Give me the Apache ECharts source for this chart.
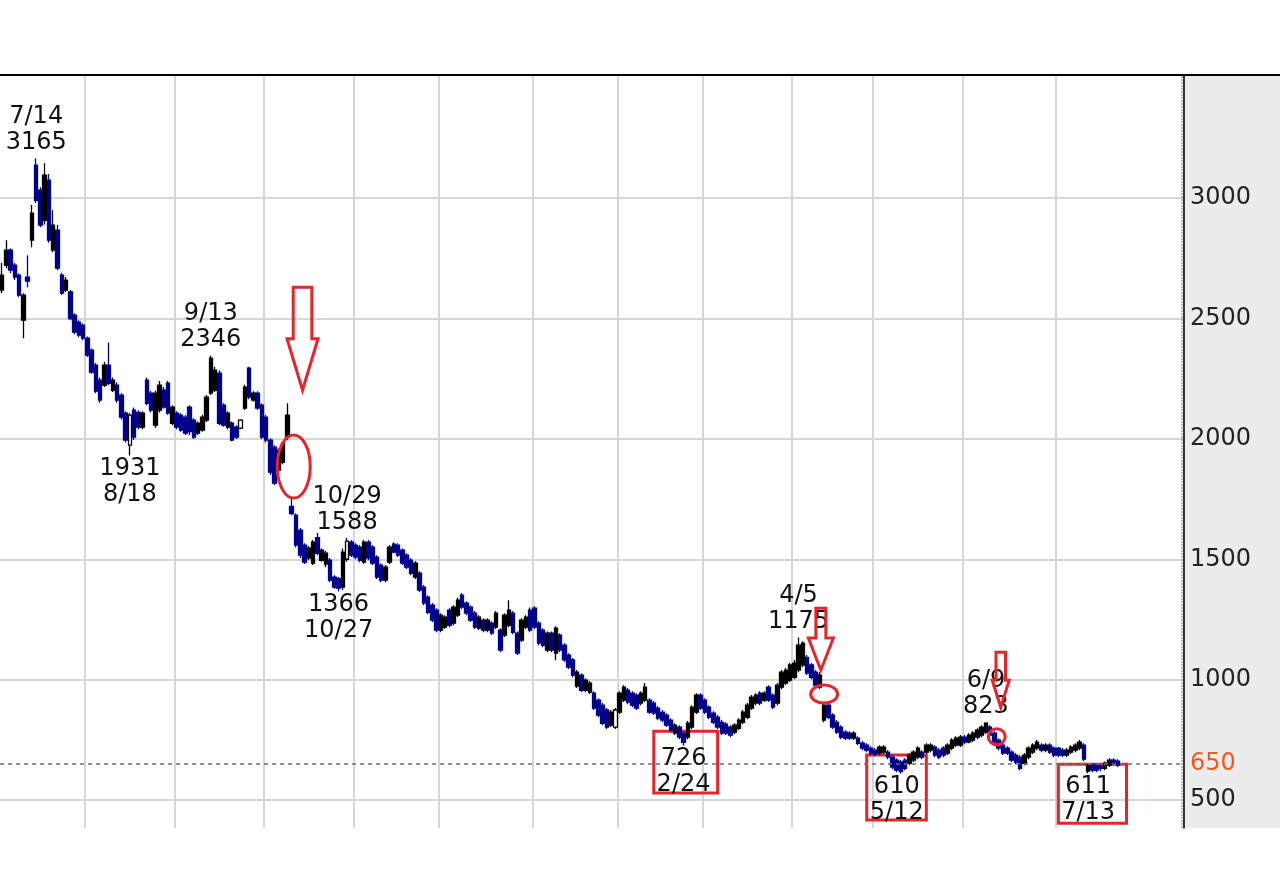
<!DOCTYPE html>
<html><head><meta charset="utf-8">
<script src="https://cdn.jsdelivr.net/npm/echarts@6/dist/echarts.min.js"></script>
<style>html,body{margin:0;padding:0;background:#fff}#c{width:1280px;height:871px}</style>
</head><body><div id="c"></div>
<script>
// month labels (one per block of trading days)
const monthNames = ['Jul','Aug','Sep','Oct','Nov','Dec','Jan','Feb','Mar','Apr','May','Jun','Jul2'];
// daily candles [open, close, low, high]
const jul = [
[2618,2680,2605,2730],[2721,2784,2709,2825],[2784,2701,2688,2792],[2721,2672,2660,2730],
[2680,2597,2589,2688],[2493,2597,2418,2605],[2672,2655,2630,2763],[2825,2937,2796,2971],
[3137,2991,2980,3165],[3033,2888,2879,3045],[2908,3095,2890,3145],[3074,2825,2815,3100],
[2784,2888,2775,2950],[2867,2709,2700,2888],[2680,2605,2597,2690],[2618,2659,2610,2672],
[2610,2500,2493,2618],[2514,2443,2435,2522],[2485,2431,2422,2493],[2472,2418,2410,2480]];
const aug = [
[2418,2348,2340,2425],[2368,2277,2270,2375],[2306,2198,2190,2315],[2244,2161,2150,2255],
[2223,2306,2215,2320],[2306,2231,2223,2400],[2202,2244,2195,2255],[2223,2161,2150,2235],
[2182,2090,2080,2190],[2107,1995,1985,2115],[1974,2099,1931,2107],[2119,2007,1995,2130],
[2110,2049,2040,2119],[2049,2107,2040,2115],[2244,2148,2140,2255],[2190,2119,2110,2200],
[2057,2190,2045,2200],[2119,2223,2110,2240],[2202,2132,2125,2215],[2231,2107,2100,2240],
[2065,2132,2057,2140]];
const sep = [
[2107,2049,2040,2115],[2099,2036,2030,2107],[2090,2024,2016,2099],[2132,2030,2016,2140],
[2078,2007,2000,2086],[2024,2065,2016,2072],[2036,2090,2030,2099],[2078,2173,2070,2182],
[2190,2335,2182,2346],[2202,2285,2195,2300],[2273,2065,2057,2285],[2140,2057,2050,2148],
[2049,2107,2040,2115],[2065,1995,1990,2072],[2049,2007,2000,2057],[2045,2078,2040,2082],
[2128,2215,2120,2225],[2294,2173,2165,2300],[2161,2190,2155,2198],[2190,2128,2120,2198],
[2140,2007,2000,2148]];
const oct = [
[2090,1995,1985,2099],[1995,1862,1850,2003],[1966,1816,1808,1974],[1870,1953,1850,1960],
[1903,1982,1895,1990],[2007,2099,1995,2148],[1720,1690,1683,1750],[1683,1559,1550,1690],
[1621,1517,1505,1630],[1559,1488,1480,1567],[1505,1546,1496,1555],[1484,1571,1476,1580],
[1590,1525,1517,1609],[1496,1538,1490,1545],[1480,1525,1467,1535],[1496,1413,1405,1505],
[1426,1384,1378,1434],[1420,1380,1366,1426],[1384,1530,1372,1545],[1500,1575,1490,1588],
[1571,1517,1509,1580]];
const nov = [
[1559,1509,1500,1567],[1550,1496,1488,1559],[1488,1571,1480,1580],[1571,1505,1496,1580],
[1550,1484,1476,1559],[1509,1426,1418,1517],[1476,1413,1405,1484],[1413,1467,1405,1476],
[1488,1550,1480,1559],[1563,1530,1525,1571],[1559,1517,1509,1567],[1538,1484,1476,1546],
[1517,1467,1460,1525],[1496,1442,1434,1505],[1426,1484,1418,1492],[1442,1372,1363,1450],
[1384,1318,1309,1393],[1343,1280,1272,1351],[1309,1247,1240,1318],[1289,1206,1197,1297]];
const dec = [
[1206,1268,1197,1276],[1218,1260,1210,1268],[1289,1226,1218,1297],[1235,1301,1226,1309],
[1268,1330,1260,1340],[1351,1301,1293,1360],[1318,1276,1268,1326],[1301,1247,1240,1309],
[1276,1218,1210,1285],[1214,1260,1206,1268],[1247,1206,1197,1255],[1206,1247,1197,1255],
[1235,1193,1185,1243],[1218,1276,1210,1285],[1206,1123,1114,1214],[1185,1268,1177,1276],
[1226,1289,1218,1330],[1276,1197,1189,1285],[1193,1110,1102,1200],[1164,1247,1156,1255],
[1218,1260,1210,1268],[1289,1206,1197,1300]];
const jan = [
[1297,1218,1210,1305],[1235,1152,1143,1243],[1206,1143,1135,1214],[1123,1193,1114,1200],
[1193,1123,1114,1200],[1110,1214,1081,1222],[1185,1123,1114,1193],[1143,1082,1073,1152],
[1102,1052,1044,1110],[1082,1019,1010,1090],[973,1031,965,1040],[1019,956,948,1027],
[956,998,948,1006],[948,986,940,994],[944,882,874,952],[915,853,844,923],
[894,819,811,903],[874,803,795,882],[811,865,803,874],[803,874,795,882]];
const feb = [
[865,944,857,952],[915,969,907,977],[956,907,898,965],[944,894,886,952],
[936,882,874,944],[903,944,894,952],[915,969,907,986],[915,865,857,923],
[903,861,853,911],[882,840,832,890],[865,832,823,874],[853,811,803,861],
[832,790,782,840],[778,811,770,819],[803,761,753,811],[778,740,726,786],
[761,819,753,828],[803,886,795,894],[865,936,857,944],[936,882,874,944]];
const mar = [
[915,865,857,923],[886,844,836,894],[861,823,815,869],[844,803,795,853],
[823,778,770,832],[815,778,770,823],[803,770,761,811],[782,811,774,819],
[798,832,790,840],[823,865,815,874],[844,894,836,903],[882,927,874,936],
[903,936,894,944],[944,903,894,952],[915,944,907,952],[969,915,907,977],
[936,886,878,944],[903,977,894,986],[969,1031,961,1040],[986,1040,977,1048],
[998,1061,990,1069]];
const apr = [
[1010,1069,1002,1082],[1040,1143,1031,1175],[1061,1152,1052,1160],[1093,1027,1019,1102],
[1061,1010,1002,1069],[1031,977,969,1040],[969,1019,961,1031],[832,894,823,903],
[894,844,836,903],[853,803,795,861],[823,782,774,832],[803,761,753,811],
[782,757,749,790],[778,757,749,786],[757,778,749,786],[757,736,728,765],
[736,716,707,745],[728,707,699,736],[716,695,687,724]];
const may = [
[707,690,682,716],[695,720,687,728],[699,720,691,728],[699,678,670,707],
[678,637,628,687],[666,624,616,674],[658,618,610,666],[666,632,624,674],
[653,687,645,695],[666,699,658,707],[678,716,670,724],[699,678,670,707],
[699,728,691,736],[707,728,699,736],[720,687,678,728],[707,678,670,716],
[716,687,678,724],[695,728,687,736],[716,749,707,757],[728,757,720,765],
[728,761,720,770]];
const jun = [
[761,741,732,770],[741,770,736,778],[749,778,741,786],[761,790,753,798],
[770,803,761,811],[782,819,774,823],[803,770,761,811],[778,741,732,786],
[749,716,707,757],[728,695,687,736],[716,695,687,724],[699,666,658,707],
[687,658,649,695],[678,632,624,687],[653,687,645,695],[678,716,670,724],
[699,728,691,736],[716,741,707,749],[728,707,699,736],[707,728,699,736],
[728,699,691,736],[716,687,678,724]];
const jul2 = [
[716,687,678,720],[707,687,678,716],[687,707,678,716],[699,720,691,728],
[707,728,699,736],[716,741,707,749],[728,670,662,736],[620,645,611,649],
[645,624,616,653],[645,624,616,653],[641,632,620,649],[632,653,624,660],
[645,666,637,674],[666,653,645,674],[662,645,637,670]];
const months = [jul, aug, sep, oct, nov, dec, jan, feb, mar, apr, may, jun, jul2];
const blankTail = 15;                 // empty trading-day slots at the right
const yTicks = [500, 1000, 1500, 2000, 2500, 3000];
const refLevel = 650;
const hollow = [30, 56, 81, 144];     // candles drawn open (white body)
// text notes: candle index, which extreme, label text
const notes = [
  {i: 8,   at: 'high', text: '7/14\n3165'},
  {i: 49,  at: 'high', text: '9/13\n2346'},
  {i: 30,  at: 'low',  text: '1931\n8/18'},
  {i: 81,  at: 'high', text: '10/29\n1588'},
  {i: 79,  at: 'low',  text: '1366\n10/27'},
  {i: 187, at: 'high', text: '4/5\n1175'},
  {i: 160, at: 'low',  text: '726\n2/24'},
  {i: 211, at: 'low',  text: '610\n5/12', dx: -4},
  {i: 231, at: 'high', text: '6/9\n823'},
  {i: 255, at: 'low',  text: '611\n7/13'}
];
// red boxes: [fromIndex, topValue, toIndex, bottomValue]
const boxes = [[153, 786, 168, 529], [203, 687, 217, 417], [248, 649, 264, 404]];
// red arrows: [index, centreValue, width, height, shaftFraction, headStartFraction, dx]
const arrows = [[71, 2416, 31, 103, 0.2, 0.5, -2], [192, 1168, 25, 62, 0.3, 0.48, 1], [234, 1000, 17, 55, 0.22, 0.51, 2]];
// red rings: [index, value, width, height, dx]
const rings = [[68, 1885, 33, 63, 2], [193, 940, 27, 18, 0], [234, 763, 17, 16, -2]];

const RED = '#e8242b', FONT = 'DejaVu Sans';
const categories = [], candleData = [], monthStarts = [];
months.forEach((m, mi) => {
  if (mi > 0) monthStarts.push(categories.length);
  m.forEach((c, k) => {
    const idx = categories.length;
    categories.push(mi + ':' + monthNames[mi] + '-' + (k + 1));
    candleData.push(hollow.includes(idx)
      ? {value: c, itemStyle: {color: '#ffffff', borderColor: '#000000', color0: '#ffffff', borderColor0: '#000000'}}
      : c);
  });
});
for (let k = 0; k < blankTail; k++) categories.push('tail-' + k);
const flat = months.flat();

const baseGraphic = [
  {id: 'panel', type: 'rect', left: 1185, top: 76, shape: {width: 95, height: 752}, style: {fill: '#ececec'}, z: -1, silent: true},
  {id: 'topline', type: 'line', shape: {x1: 0, y1: 75, x2: 1280, y2: 75}, style: {stroke: '#000', lineWidth: 2}, z: 10, silent: true},
  {id: 'dotline', type: 'line', shape: {x1: 1182, y1: 76, x2: 1182, y2: 828}, style: {stroke: '#777', lineWidth: 1, lineDash: [2, 1]}, z: 10, silent: true}
];

const option = {
  animation: false,
  grid: {left: 0, right: 96, top: 76, bottom: 43, outerBoundsMode: 'none'},
  graphic: baseGraphic,
  xAxis: {
    type: 'category', data: categories, boundaryGap: true,
    axisLine: {show: false}, axisTick: {show: false}, axisLabel: {show: false},
    splitLine: {show: true, interval: (i) => monthStarts.includes(i), lineStyle: {color: '#d6d6d6', width: 2}}
  },
  yAxis: {
    type: 'value', position: 'right', min: 384, max: 3507,
    axisLine: {show: true, lineStyle: {color: '#000', width: 1.5}},
    axisTick: {show: false, customValues: yTicks},
    axisLabel: {customValues: yTicks, formatter: (v) => String(v), color: '#222', fontSize: 24, fontFamily: FONT, margin: 6},
    splitLine: {show: true, lineStyle: {color: '#d6d6d6', width: 2}}
  },
  series: [
    {
      type: 'candlestick', data: candleData, barWidth: 4,
      itemStyle: {color: '#000000', color0: '#00008c', borderColor: '#000000', borderColor0: '#00008c', borderWidth: 1.3},
      markLine: {
        silent: true, symbol: ['none', 'none'], animation: false,
        data: [{yAxis: refLevel}],
        lineStyle: {type: [4, 4], color: '#707070', width: 1.5},
        label: {show: true, position: 'end', formatter: String(refLevel), color: '#f05a1e', fontSize: 24, fontFamily: FONT, distance: 6}
      },
      markArea: {
        silent: true,
        itemStyle: {color: 'rgba(0,0,0,0)', borderColor: RED, borderWidth: 3},
        data: boxes.map(b => [{coord: [b[0], b[1]]}, {coord: [b[2], b[3]]}])
      },
      markPoint: {
        silent: true, animation: false, symbol: 'circle', symbolSize: 1,
        itemStyle: {color: 'rgba(0,0,0,0)'},
        data: notes.map(n => ({
          coord: [n.i, n.at === 'high' ? flat[n.i][3] : flat[n.i][2]],
          label: {
            show: true, position: n.at === 'high' ? 'top' : 'bottom', distance: n.at === 'high' ? 2 : 0,
            offset: [n.dx || 0, 0], formatter: n.text, color: '#111', fontSize: 24, fontFamily: FONT, lineHeight: 26
          }
        }))
      }
    }
  ]
};
const chart = echarts.init(document.getElementById('c'), null, {renderer: 'canvas'});
chart.setOption(option);

// red arrows and rings placed through the chart's own scales
const extra = [];
arrows.forEach((a, k) => {
  const p = chart.convertToPixel({seriesIndex: 0}, [a[0], a[1]]);
  const cx = p[0] + a[6], cy = p[1], w = a[2], h = a[3];
  const x0 = cx - w / 2, y0 = cy - h / 2, s = a[4] * w, hs = a[5] * h;
  extra.push({
    id: 'arrow' + k, type: 'polygon', z: 20, silent: true,
    shape: {points: [[x0 + s, y0], [x0 + w - s, y0], [x0 + w - s, y0 + hs], [x0 + w, y0 + hs], [cx, y0 + h], [x0, y0 + hs], [x0 + s, y0 + hs]]},
    style: {fill: 'none', stroke: RED, lineWidth: 3, lineJoin: 'miter'}
  });
});
rings.forEach((r, k) => {
  const p = chart.convertToPixel({seriesIndex: 0}, [r[0], r[1]]);
  extra.push({
    id: 'ring' + k, type: 'ellipse', z: 20, silent: true,
    shape: {cx: p[0] + r[4], cy: p[1], rx: r[2] / 2, ry: r[3] / 2},
    style: {fill: 'none', stroke: RED, lineWidth: 3}
  });
});
chart.setOption({graphic: baseGraphic.concat(extra)});
</script>
</body></html>
